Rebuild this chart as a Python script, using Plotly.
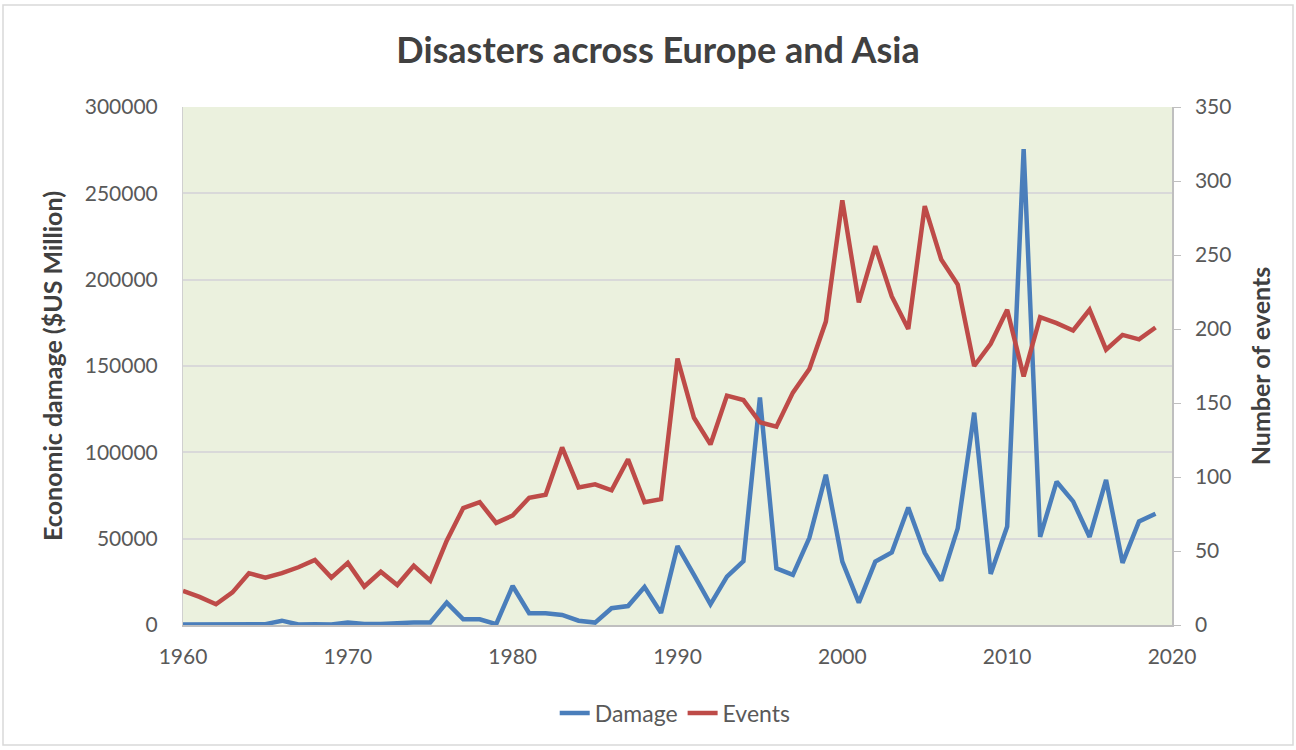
import plotly.graph_objects as go

years = list(range(1960, 2020))
damage = [300, 300, 400, 500, 500, 500, 2500, 300, 500, 300, 1500, 600, 600, 1300, 1500, 1500,
          13000, 3300, 3300, 500, 22600, 6800, 6800, 5800, 2500, 1400, 9700, 11000, 22000, 7000,
          45700, 29000, 12000, 28000, 37000, 131800, 32800, 29000, 50500, 87000,
          36700, 13000, 36700, 42000, 68000, 41800, 25700, 56000, 123000, 29600,
          57000, 275600, 51000, 83000, 71600, 51000, 84000, 36000, 60000, 64400]
events = [23, 19, 14, 22, 35, 32, 35, 39, 44, 32, 42, 26, 36, 27, 40, 30,
          57, 79, 83, 69, 74, 86, 88, 120, 93, 95, 91, 112, 83, 85,
          180, 140, 122, 155, 152, 137, 134, 157, 173, 205,
          287, 218, 256, 222, 200, 283, 247, 230, 175, 190,
          213, 168, 208, 204, 199, 213, 186, 196, 193, 201]

FONT = "Lato"
L, R, T, B = 183, 124, 107, 125
W, H = 1296, 750
pw, ph = W - L - R, H - T - B

fig = go.Figure()
fig.add_trace(go.Scatter(x=years, y=damage, name="Damage", mode="lines",
                         line=dict(color="#4A7EBB", width=4.5), yaxis="y"))
fig.add_trace(go.Scatter(x=years, y=events, name="Events", mode="lines",
                         line=dict(color="#BE4B48", width=4.5), yaxis="y2"))

fig.update_layout(
    width=W, height=H,
    margin=dict(l=L, r=R, t=T, b=B),
    paper_bgcolor="white",
    plot_bgcolor="#EBF1DE",
    font=dict(family=FONT, color="#595959", size=20),
    title=dict(text="<b>Disasters across Europe and Asia</b>", x=(398 + 918) / 2 / W, xanchor="center",
               y=1 - 50 / H, yanchor="middle", font=dict(size=36, color="#404040", family=FONT)),
    xaxis=dict(range=[1960, 2020], dtick=10, tick0=1960, showgrid=False, zeroline=False,
               showline=True, linecolor="#BFBFBF", linewidth=1.5, ticks="",
               tickfont=dict(size=21, color="#595959"), ticklabelstandoff=12),
    yaxis=dict(range=[0, 300000], dtick=50000, showgrid=True, gridcolor="#D9D9D9", gridwidth=1.5,
               zeroline=False, showline=True, linecolor="#D0D0D0", ticks="",
               tickformat="d", tickfont=dict(size=21, color="#595959"), ticklabelstandoff=20,
               title=dict(text="<b>Economic damage ($US Million)</b>", font=dict(size=25, color="#404040"),
                          standoff=14)),
    yaxis2=dict(range=[0, 350], dtick=50, overlaying="y", side="right", showgrid=False, zeroline=False,
                showline=True, linecolor="#BFBFBF", linewidth=1.5, ticks="outside", ticklen=7,
                tickcolor="#BFBFBF", tickfont=dict(size=21, color="#595959"), ticklabelstandoff=10,
                title=dict(text="<b>Number of events</b>", font=dict(size=25, color="#404040"),
                           standoff=22)),
    legend=dict(orientation="h", x=645 / W, xanchor="center", xref="paper",
                y=-(713 - (T + ph)) / ph, yanchor="middle",
                font=dict(size=23, color="#595959"), bgcolor="rgba(0,0,0,0)"),
    showlegend=True,
)

# outer chart frame
fig.add_shape(type="rect", xref="paper", yref="paper",
              x0=(3 - L) / pw, x1=(1293 - L) / pw,
              y0=1 - (745 - T) / ph, y1=1 - (5 - T) / ph,
              line=dict(color="#D9D9D9", width=1.5), fillcolor="rgba(0,0,0,0)", layer="below")

fig.write_html("out.html")
